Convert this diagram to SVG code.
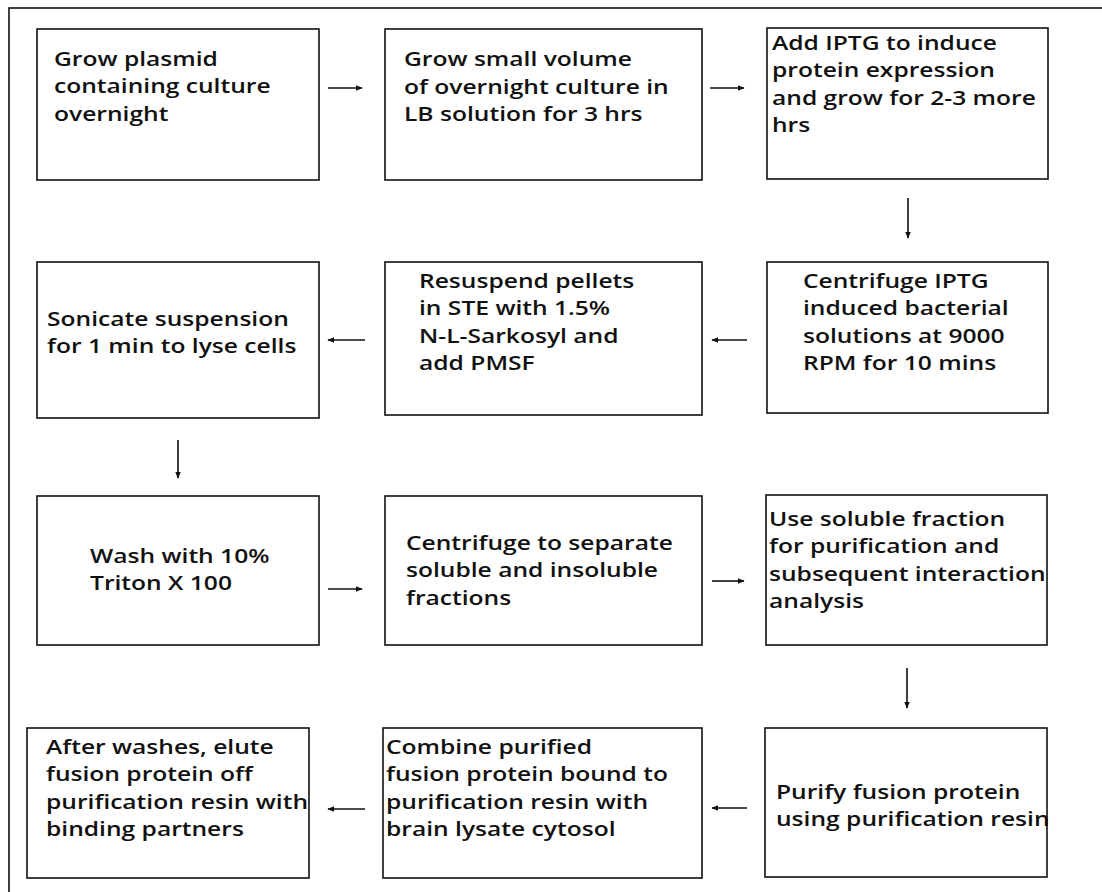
<svg xmlns="http://www.w3.org/2000/svg" width="1102" height="892" viewBox="0 0 1102 892">
<defs>
<style>
.box{fill:#fff;stroke:#111;stroke-width:1.6}
.frame{fill:none;stroke:#111;stroke-width:1.6}
.t{font-family:"Open Sans","Noto Sans","Liberation Sans",sans-serif;font-weight:600;font-size:20px;fill:#111}
.c{stroke:#111;stroke-width:1.6;fill:none}
</style>
<marker id="ah" viewBox="0 0 10 10" refX="9" refY="5" markerWidth="7" markerHeight="7" markerUnits="userSpaceOnUse" orient="auto"><path d="M0,1 L10,5 L0,9 z" fill="#111"/></marker>
</defs>
<rect width="1102" height="892" fill="#fff"/>
<rect class="frame" x="9" y="8" width="1110" height="900"/>
<g id="connectors">
<line class="c" x1="328" y1="88" x2="362" y2="88" marker-end="url(#ah)"/>
<line class="c" x1="710" y1="88" x2="744" y2="88" marker-end="url(#ah)"/>
<line class="c" x1="908" y1="198" x2="908" y2="238" marker-end="url(#ah)"/>
<line class="c" x1="747" y1="340" x2="712" y2="340" marker-end="url(#ah)"/>
<line class="c" x1="365" y1="340" x2="328" y2="340" marker-end="url(#ah)"/>
<line class="c" x1="178" y1="440" x2="178" y2="478" marker-end="url(#ah)"/>
<line class="c" x1="328" y1="589" x2="362" y2="589" marker-end="url(#ah)"/>
<line class="c" x1="712" y1="581" x2="744" y2="581" marker-end="url(#ah)"/>
<line class="c" x1="907" y1="668" x2="907" y2="708" marker-end="url(#ah)"/>
<line class="c" x1="747" y1="808" x2="712" y2="808" marker-end="url(#ah)"/>
<line class="c" x1="365" y1="809" x2="328" y2="809" marker-end="url(#ah)"/>
</g>
<g id="n1"><rect class="box" x="37" y="29" width="282" height="151"/>
<text class="t" transform="matrix(1.23 0 0 1 54 0)"><tspan x="0" y="66">Grow plasmid</tspan><tspan x="0" y="93.5">containing culture</tspan><tspan x="0" y="121">overnight</tspan></text></g>
<g id="n2"><rect class="box" x="385" y="29" width="317" height="151"/>
<text class="t" transform="matrix(1.23 0 0 1 404 0)"><tspan x="0" y="66">Grow small volume</tspan><tspan x="0" y="94">of overnight culture in</tspan><tspan x="0" y="121.5">LB solution for 3 hrs</tspan></text></g>
<g id="n3"><rect class="box" x="767" y="28" width="281" height="151"/>
<text class="t" transform="matrix(1.23 0 0 1 772 0)"><tspan x="0" y="50">Add IPTG to induce</tspan><tspan x="0" y="77.5">protein expression</tspan><tspan x="0" y="105">and grow for 2-3 more</tspan><tspan x="0" y="132.5">hrs</tspan></text></g>
<g id="n4"><rect class="box" x="767" y="262" width="281" height="151"/>
<text class="t" transform="matrix(1.23 0 0 1 803 0)"><tspan x="0" y="288">Centrifuge IPTG</tspan><tspan x="0" y="315.5">induced bacterial</tspan><tspan x="0" y="343">solutions at 9000</tspan><tspan x="0" y="370.5">RPM for 10 mins</tspan></text></g>
<g id="n5"><rect class="box" x="385" y="262" width="317" height="153"/>
<text class="t" transform="matrix(1.23 0 0 1 419 0)"><tspan x="0" y="288">Resuspend pellets</tspan><tspan x="0" y="315.5">in STE with 1.5%</tspan><tspan x="0" y="343">N-L-Sarkosyl and</tspan><tspan x="0" y="370.5">add PMSF</tspan></text></g>
<g id="n6"><rect class="box" x="37" y="262" width="282" height="156"/>
<text class="t" transform="matrix(1.23 0 0 1 47 0)"><tspan x="0" y="326">Sonicate suspension</tspan><tspan x="0" y="353.5">for 1 min to lyse cells</tspan></text></g>
<g id="n7"><rect class="box" x="37" y="496" width="282" height="149"/>
<text class="t" transform="matrix(1.23 0 0 1 90 0)"><tspan x="0" y="563">Wash with 10%</tspan><tspan x="0" y="590.5">Triton X 100</tspan></text></g>
<g id="n8"><rect class="box" x="385" y="496" width="317" height="149"/>
<text class="t" transform="matrix(1.23 0 0 1 406 0)"><tspan x="0" y="550">Centrifuge to separate</tspan><tspan x="0" y="577.5">soluble and insoluble</tspan><tspan x="0" y="605">fractions</tspan></text></g>
<g id="n9"><rect class="box" x="766" y="495" width="281" height="150"/>
<text class="t" transform="matrix(1.23 0 0 1 769 0)"><tspan x="0" y="526">Use soluble fraction</tspan><tspan x="0" y="553.5">for purification and</tspan><tspan x="0" y="581">subsequent interaction</tspan><tspan x="0" y="608.5">analysis</tspan></text></g>
<g id="n10"><rect class="box" x="765" y="728" width="282" height="149"/>
<text class="t" transform="matrix(1.23 0 0 1 776 0)"><tspan x="0" y="799">Purify fusion protein</tspan><tspan x="0" y="826.5">using purification resin</tspan></text></g>
<g id="n11"><rect class="box" x="383" y="728" width="319" height="150"/>
<text class="t" transform="matrix(1.23 0 0 1 386 0)"><tspan x="0" y="754">Combine purified</tspan><tspan x="0" y="781.5">fusion protein bound to</tspan><tspan x="0" y="809">purification resin with</tspan><tspan x="0" y="836.5">brain lysate cytosol</tspan></text></g>
<g id="n12"><rect class="box" x="27" y="728" width="282" height="150"/>
<text class="t" transform="matrix(1.23 0 0 1 46 0)"><tspan x="0" y="754">After washes, elute</tspan><tspan x="0" y="781.5">fusion protein off</tspan><tspan x="0" y="809">purification resin with</tspan><tspan x="0" y="836.5">binding partners</tspan></text></g>
</svg>
